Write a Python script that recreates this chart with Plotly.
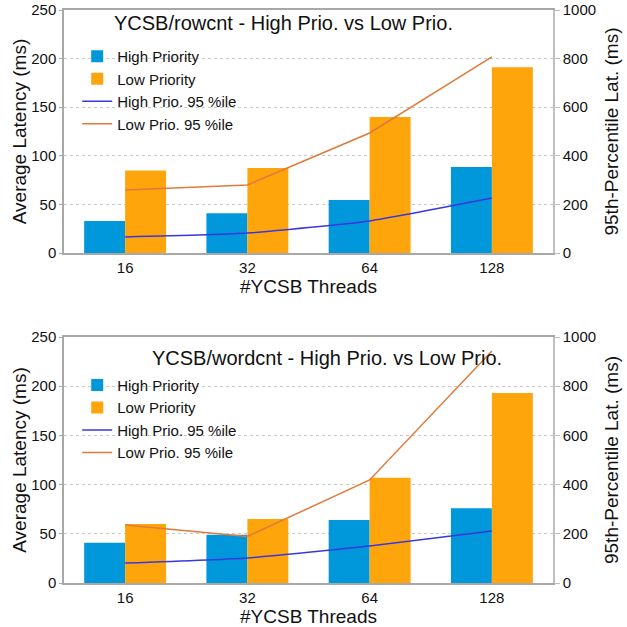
import plotly.graph_objects as go
from plotly.subplots import make_subplots

threads = ["16", "32", "64", "128"]

# Top chart: YCSB/rowcnt
row_high_avg = [33, 41, 54.5, 88.5]
row_low_avg = [85, 87.5, 140, 191]
row_high_p95 = [66, 82, 132, 226]
row_low_p95 = [259, 280, 494, 807]

# Bottom chart: YCSB/wordcnt
word_high_avg = [41, 49, 64, 76]
word_low_avg = [60, 65, 107, 193]
word_high_p95 = [81, 102, 150, 211]
word_low_p95 = [236, 189, 419, 943]

titles = ["YCSB/rowcnt - High Prio. vs Low Prio.", "YCSB/wordcnt - High Prio. vs Low Prio."]
left_ticks = [0, 50, 100, 150, 200, 250]
right_ticks = [0, 200, 400, 600, 800, 1000]

BLUE = "#0098DA"
ORANGE = "#FFA50C"
LBLUE = "#3838E0"
LORANGE = "#E07A3C"
FONT = "Liberation Sans"

fig = make_subplots(rows=2, cols=1, specs=[[{"secondary_y": True}], [{"secondary_y": True}]])

datasets = [
    (row_high_avg, row_low_avg, row_high_p95, row_low_p95, "legend"),
    (word_high_avg, word_low_avg, word_high_p95, word_low_p95, "legend2"),
]
for i, (ha, la, hp, lp, lg) in enumerate(datasets):
    r = i + 1
    fig.add_trace(go.Bar(x=threads, y=ha, name="High Priority", marker=dict(color=BLUE, line=dict(width=0)), legend=lg), row=r, col=1, secondary_y=False)
    fig.add_trace(go.Bar(x=threads, y=la, name="Low Priority", marker=dict(color=ORANGE, line=dict(width=0)), legend=lg), row=r, col=1, secondary_y=False)
    fig.add_trace(go.Scatter(x=threads, y=hp, name="High Prio. 95 %ile", mode="lines", line=dict(color=LBLUE, width=1.5, shape="spline", smoothing=0.5), legend=lg), row=r, col=1, secondary_y=True)
    fig.add_trace(go.Scatter(x=threads, y=lp, name="Low Prio. 95 %ile", mode="lines", line=dict(color=LORANGE, width=1.5), legend=lg), row=r, col=1, secondary_y=True)

top_dom = [0.5759, 1.0]
bot_dom = [0.0, 0.4293]

common_x = dict(showline=True, linecolor="#A8A8A8", linewidth=1.5, mirror=True, ticks="",
                tickfont=dict(size=15, color="#111", family=FONT), showgrid=False, automargin=False,
                title=dict(text="#YCSB Threads", font=dict(size=19, color="#111", family=FONT), standoff=0),
                range=[-0.5, 3.5])
common_yl = dict(range=[0, 250], tickvals=left_ticks, showline=True, linecolor="#A8A8A8", linewidth=1.5,
                 ticks="outside", ticklen=3, tickcolor="#A8A8A8", automargin=False, ticklabeloverflow="allow",
                 tickfont=dict(size=15, color="#111", family=FONT),
                 showgrid=True, gridcolor="#C8C8C8", griddash="dot", gridwidth=1, zeroline=False,
                 title=dict(text="Average Latency (ms)", font=dict(size=19, color="#111", family=FONT), standoff=0))
common_yr = dict(range=[0, 1000], tickvals=right_ticks, showline=True, linecolor="#C0C0C0", linewidth=1.5,
                 ticks="outside", ticklen=5, tickcolor="#C0C0C0", automargin=False, ticklabeloverflow="allow",
                 tickfont=dict(size=15, color="#111", family=FONT), showgrid=False, zeroline=False,
                 title=dict(text="95th-Percentile Lat. (ms)", font=dict(size=19, color="#111", family=FONT), standoff=10))

fig.update_layout(
    xaxis=dict(domain=[0, 1], anchor="y", **common_x),
    xaxis2=dict(domain=[0, 1], anchor="y3", **common_x),
    yaxis=dict(domain=top_dom, **common_yl),
    yaxis2=dict(domain=top_dom, **common_yr),
    yaxis3=dict(domain=bot_dom, **common_yl),
    yaxis4=dict(domain=bot_dom, **common_yr),
)

fig.update_layout(
    width=627, height=627,
    margin=dict(l=64, r=74, t=10, b=44, autoexpand=False),
    paper_bgcolor="white", plot_bgcolor="white",
    barmode="group", bargap=0.33, bargroupgap=0,
    font=dict(family=FONT, color="#111"),
    legend=dict(x=0.027, y=0.9475, xanchor="left", yanchor="top", bgcolor="rgba(0,0,0,0)",
                font=dict(size=15, family=FONT, color="#111"), tracegroupgap=0, itemwidth=30),
    legend2=dict(x=0.027, y=0.374, xanchor="left", yanchor="top", bgcolor="rgba(0,0,0,0)",
                 font=dict(size=15, family=FONT, color="#111"), tracegroupgap=0, itemwidth=30),
    annotations=[
        dict(text=titles[0], xref="paper", yref="paper", x=(283 - 64) / 489, y=1 - (23 - 10) / 573,
             xanchor="center", yanchor="middle", showarrow=False, font=dict(size=20, family=FONT, color="#111")),
        dict(text=titles[1], xref="paper", yref="paper", x=(327 - 64) / 489, y=1 - (358 - 10) / 573,
             xanchor="center", yanchor="middle", showarrow=False, font=dict(size=20, family=FONT, color="#111")),
    ],
)

fig.write_html("out.html", config={"displayModeBar": False},
               post_script="document.body.style.margin='0';")
